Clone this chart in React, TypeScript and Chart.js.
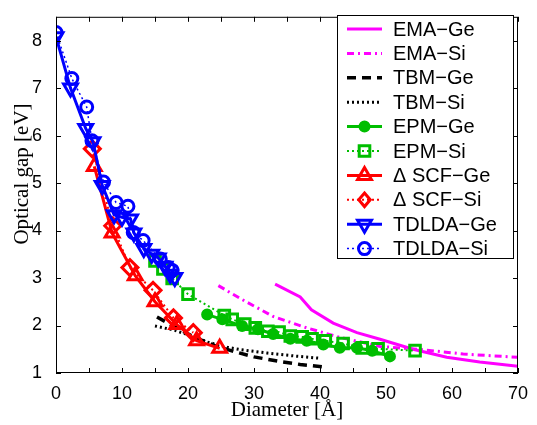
import React, { useEffect, useRef } from "react";
import { Chart, registerables } from "chart.js";

Chart.register(...registerables);

// ---- data ----
const emaGeX = [33.2, 37.0, 38.7, 42.0, 45.6, 49.1, 54.1, 59.2, 64.2, 70];
const emaGeY = [2.87, 2.6, 2.33, 2.05, 1.85, 1.71, 1.5, 1.33, 1.23, 1.14];

const emaSiX = [24.6, 27.9, 32.9, 38.0, 43.0, 49.1, 55.6, 61.7, 70];
const emaSiY = [2.84, 2.57, 2.19, 1.95, 1.75, 1.56, 1.49, 1.4, 1.33];

const tbmGeX = [15.3, 18, 21, 24, 27, 30, 34, 37, 40.5];
const tbmGeY = [2.18, 1.97, 1.75, 1.58, 1.45, 1.34, 1.24, 1.18, 1.13];

const tbmSiX = [15, 18, 20.5, 23, 26, 28, 32, 36, 40];
const tbmSiY = [1.99, 1.9, 1.78, 1.65, 1.54, 1.49, 1.42, 1.36, 1.31];

const epmGeX = [22.9, 25.2, 28.2, 30.6, 32.9, 35.5, 38.0, 40.5, 43.0, 45.6, 47.9, 50.6];
const epmGeY = [2.23, 2.13, 1.99, 1.92, 1.82, 1.72, 1.68, 1.6, 1.53, 1.53, 1.47, 1.35];

const epmSiX = [15.0, 16.2, 17.6, 20.0, 25.5, 26.7, 28.6, 30.2, 32.1, 33.8, 35.5, 37.3, 38.8, 40.8, 43.5, 46.4, 48.8, 54.4];
const epmSiY = [3.36, 3.19, 2.99, 2.66, 2.21, 2.13, 2.03, 1.95, 1.88, 1.86, 1.78, 1.76, 1.72, 1.68, 1.62, 1.53, 1.51, 1.47];

const scfGeX = [5.8, 8.5, 12.0, 15.0, 18.3, 21.3, 24.8];
const scfGeY = [5.35, 3.95, 3.05, 2.5, 2.02, 1.68, 1.52];

const scfSiX = [5.5, 8.6, 11.2, 14.7, 17.8, 20.8];
const scfSiY = [5.72, 4.1, 3.22, 2.74, 2.16, 1.85];

const tdGeX = [0, 2.2, 4.5, 5.6, 7.0, 8.8, 10.0, 11.3, 11.8, 13.3, 14.5, 15.5, 16.5, 17.3, 18.0];
const tdGeY = [8.08, 7.0, 6.15, 5.87, 4.95, 4.33, 4.28, 4.24, 3.95, 3.62, 3.5, 3.42, 3.25, 3.08, 3.01];

const tdSiX = [0, 2.4, 4.65, 5.45, 7.2, 9.1, 10.9, 11.7, 13.2, 15.8, 17.0, 17.6];
const tdSiY = [8.17, 7.2, 6.6, 5.89, 5.02, 4.59, 4.51, 3.96, 3.79, 3.4, 3.22, 3.16];

const seriesNames = ["EMA\u2212Ge", "EMA\u2212Si", "TBM\u2212Ge", "TBM\u2212Si", "EPM\u2212Ge", "EPM\u2212Si", "\u0394 SCF\u2212Ge", "\u0394 SCF\u2212Si", "TDLDA\u2212Ge", "TDLDA\u2212Si"];

const xTitle = "Diameter [\u00c5]";
const yTitle = "Optical gap [eV]";

const xMin = 0, xMax = 70, xStep = 5, xLabelStep = 10;
const yMin = 1, yMax = 8.5, yStep = 1;

const MAG = "rgb(255,0,255)";
const GRN = "rgb(0,190,0)";
const RED = "rgb(255,0,0)";
const BLU = "rgb(0,0,255)";

type Style = {
  color: string;
  width: number;
  dash: number[];
  marker: string | null;
  radius: number;
  rotation: number;
  filled: boolean;
  mw: number;
};

const styles: Style[] = [
  { color: MAG, width: 3, dash: [], marker: null, radius: 0, rotation: 0, filled: false, mw: 0 },
  { color: MAG, width: 3, dash: [7, 4, 2, 4], marker: null, radius: 0, rotation: 0, filled: false, mw: 0 },
  { color: "#000", width: 3.5, dash: [9, 6], marker: null, radius: 0, rotation: 0, filled: false, mw: 0 },
  { color: "#000", width: 3, dash: [2, 3], marker: null, radius: 0, rotation: 0, filled: false, mw: 0 },
  { color: GRN, width: 3, dash: [], marker: "circle", radius: 5, rotation: 0, filled: true, mw: 2 },
  { color: GRN, width: 2, dash: [2, 3], marker: "rect", radius: 7.5, rotation: 0, filled: false, mw: 3 },
  { color: RED, width: 3, dash: [], marker: "triangle", radius: 8, rotation: 0, filled: false, mw: 3 },
  { color: RED, width: 2, dash: [2, 3], marker: "rectRot", radius: 8, rotation: 0, filled: false, mw: 3 },
  { color: BLU, width: 3, dash: [], marker: "triangle", radius: 8, rotation: 180, filled: false, mw: 3 },
  { color: BLU, width: 1.5, dash: [2, 3], marker: "circle", radius: 6, rotation: 0, filled: false, mw: 3 },
];

const seriesX = [emaGeX, emaSiX, tbmGeX, tbmSiX, epmGeX, epmSiX, scfGeX, scfSiX, tdGeX, tdSiX];
const seriesY = [emaGeY, emaSiY, tbmGeY, tbmSiY, epmGeY, epmSiY, scfGeY, scfSiY, tdGeY, tdSiY];

function drawMarker(ctx: CanvasRenderingContext2D, s: Style, x: number, y: number) {
  if (!s.marker) return;
  const r = s.radius;
  ctx.save();
  ctx.setLineDash([]);
  ctx.lineWidth = s.mw;
  ctx.strokeStyle = s.color;
  ctx.fillStyle = s.filled ? s.color : "#fff";
  ctx.beginPath();
  if (s.marker === "circle") {
    ctx.arc(x, y, r, 0, Math.PI * 2);
  } else if (s.marker === "rect") {
    const h = r * Math.SQRT1_2;
    ctx.rect(x - h, y - h, 2 * h, 2 * h);
  } else if (s.marker === "rectRot") {
    const h = r * Math.SQRT1_2 * 1.2;
    ctx.moveTo(x, y - h);
    ctx.lineTo(x + h * 0.85, y);
    ctx.lineTo(x, y + h);
    ctx.lineTo(x - h * 0.85, y);
    ctx.closePath();
  } else if (s.marker === "triangle") {
    const rot = (s.rotation * Math.PI) / 180;
    for (let k = 0; k < 3; k++) {
      const a = rot - Math.PI / 2 + (k * 2 * Math.PI) / 3;
      const px = x + Math.cos(a) * r;
      const py = y + Math.sin(a) * r;
      if (k === 0) ctx.moveTo(px, py);
      else ctx.lineTo(px, py);
    }
    ctx.closePath();
  }
  if (s.filled) ctx.fill();
  ctx.stroke();
  ctx.restore();
}

const framePlugin = {
  id: "frame",
  afterDraw(chart: any) {
    const { ctx, chartArea } = chart;
    const { left, right, top, bottom } = chartArea;
    const xs = chart.scales.x;
    const ys = chart.scales.y;
    ctx.save();
    ctx.strokeStyle = "#000";
    ctx.lineWidth = 1;
    ctx.setLineDash([]);
    ctx.strokeRect(left + 0.5, top + 0.5, right - left - 1, bottom - top - 1);
    const tl = 5;
    ctx.beginPath();
    for (let v = xMin; v <= xMax; v += xStep) {
      const px = Math.round(xs.getPixelForValue(v)) + 0.5;
      ctx.moveTo(px, bottom);
      ctx.lineTo(px, bottom - tl);
      ctx.moveTo(px, top);
      ctx.lineTo(px, top + tl);
    }
    for (let v = yMin; v <= Math.floor(yMax); v += yStep) {
      const py = Math.round(ys.getPixelForValue(v)) + 0.5;
      ctx.moveTo(left, py);
      ctx.lineTo(left + tl, py);
      ctx.moveTo(right, py);
      ctx.lineTo(right - tl, py);
    }
    ctx.stroke();

    // y-axis title
    ctx.save();
    ctx.fillStyle = "#000";
    ctx.font = "21px 'Liberation Serif', 'Times New Roman', serif";
    ctx.textAlign = "center";
    ctx.textBaseline = "middle";
    ctx.translate(22, 174);
    ctx.rotate(-Math.PI / 2);
    ctx.fillText(yTitle, 0, 0);
    ctx.restore();

    // legend
    const lx = 337, ly = 15, lw = 176, lh = 243;
    ctx.fillStyle = "#fff";
    ctx.fillRect(lx, ly, lw, lh);
    ctx.strokeRect(lx + 0.5, ly + 0.5, lw, lh);
    ctx.font = "20px 'Liberation Sans', Arial, sans-serif";
    ctx.textBaseline = "middle";
    ctx.textAlign = "left";
    for (let i = 0; i < seriesNames.length; i++) {
      const s = styles[i];
      const cy = ly + 14 + i * 24.4;
      const x0 = lx + 10, x1 = lx + 45;
      ctx.save();
      ctx.strokeStyle = s.color;
      ctx.lineWidth = s.width;
      ctx.setLineDash(s.dash);
      ctx.beginPath();
      ctx.moveTo(x0, cy);
      ctx.lineTo(x1, cy);
      ctx.stroke();
      ctx.restore();
      drawMarker(ctx, s, (x0 + x1) / 2, cy);
      ctx.fillStyle = "#000";
      ctx.fillText(seriesNames[i], lx + 56, cy + 1);
    }
    ctx.restore();
  },
};

export default function App() {
  const ref = useRef<HTMLCanvasElement | null>(null);
  useEffect(() => {
    document.body.style.margin = "0";
    const canvas = ref.current;
    if (!canvas) return;
    const datasets = seriesNames.map((name, i) => {
      const s = styles[i];
      return {
        label: name,
        data: seriesX[i].map((x, j) => ({ x, y: seriesY[i][j] })),
        borderColor: s.color,
        borderWidth: s.width,
        borderDash: s.dash,
        backgroundColor: s.filled ? s.color : "#fff",
        pointStyle: s.marker || "circle",
        pointRadius: s.marker ? s.radius : 0,
        pointRotation: s.rotation,
        pointBorderWidth: s.mw,
        pointBorderColor: s.color,
        pointBackgroundColor: s.filled ? s.color : "rgba(255,255,255,0)",
        pointHoverRadius: 0,
        showLine: true,
        fill: false,
        tension: 0,
        order: 10 - i,
      };
    });
    const chart = new Chart(canvas, {
      type: "scatter",
      data: { datasets: datasets as any },
      options: {
        responsive: false,
        animation: false,
        devicePixelRatio: 1,
        layout: { padding: { top: 9, right: 19, left: 0, bottom: 0 } },
        plugins: { legend: { display: false }, tooltip: { enabled: false } },
        scales: {
          x: {
            type: "linear",
            min: xMin,
            max: xMax,
            grid: { display: false },
            border: { display: false },
            ticks: {
              stepSize: xStep,
              autoSkip: false,
              maxRotation: 0,
              padding: 2,
              color: "#000",
              font: { family: "'Liberation Sans', Arial, sans-serif", size: 18 },
              callback: (v: any) => (Number(v) % xLabelStep === 0 ? String(v) : ""),
            },
            title: {
              display: true,
              text: xTitle,
              color: "#000",
              font: { family: "'Liberation Serif', 'Times New Roman', serif", size: 21 },
              padding: { top: 0, bottom: 2 },
            },
            afterFit: (s: any) => {
              s.height = 52;
            },
          },
          y: {
            type: "linear",
            min: yMin,
            max: yMax,
            grid: { display: false },
            border: { display: false },
            ticks: {
              stepSize: yStep,
              includeBounds: false,
              padding: 6,
              color: "#000",
              font: { family: "'Liberation Sans', Arial, sans-serif", size: 18 },
              callback: (v: any) => (Number.isInteger(Number(v)) ? String(v) : ""),
            },
            title: { display: false },
            afterFit: (s: any) => {
              s.width = 56;
            },
          },
        },
      },
      plugins: [framePlugin],
    });
    return () => chart.destroy();
  }, []);
  return (
    <div style={{ width: 537, height: 425, background: "#fff" }}>
      <canvas ref={ref} width={537} height={425} style={{ display: "block" }} />
    </div>
  );
}
